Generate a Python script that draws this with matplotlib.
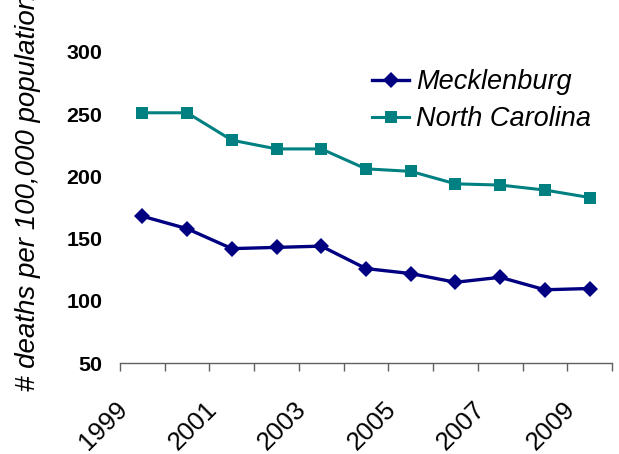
import numpy as np
import matplotlib
matplotlib.use("Agg")
import matplotlib.pyplot as plt
from matplotlib.transforms import ScaledTranslation

plt.rcParams["font.family"] = ["Liberation Sans", "DejaVu Sans"]

years = [1999, 2000, 2001, 2002, 2003, 2004, 2005, 2006, 2007, 2008, 2009]
mecklenburg = [168, 158, 142, 143, 144, 126, 122, 115, 119, 109, 110]
north_carolina = [251, 251, 229, 222, 222, 206, 204, 194, 193, 189, 183]
yticks = [50, 100, 150, 200, 250, 300]

fig = plt.figure(figsize=(6.19, 4.54), dpi=100)
ax = fig.add_axes([0.1939, 0.1998, 0.7948, 0.6863])

x = np.arange(len(years))
ax.plot(x, mecklenburg, "-D", color="#000080", lw=2.4, ms=7.8, mew=0, label="Mecklenburg")
ax.plot(x, north_carolina, "-s", color="#008080", lw=2.2, ms=8.7, mew=0, label="North Carolina")

ax.set_xlim(-0.5, len(years) - 0.5)
ax.set_ylim(50, 300)
ax.set_yticks(yticks)
ax.set_yticklabels([str(v) for v in yticks], fontsize=15.4, fontweight="bold")
ax.tick_params(axis="y", length=0, pad=12.7)

ax.set_xticks(x[::2])
ax.set_xticklabels([str(y) for y in years[::2]], fontsize=18.5, rotation=45, ha="right", va="top")
ax.set_xticks(np.arange(-0.5, len(years)), minor=True)
ax.tick_params(axis="x", which="major", length=0, pad=24)
ax.tick_params(axis="x", which="minor", length=5.8, width=1, color="#606060")
for lab in ax.get_xticklabels():
    lab.set_transform(lab.get_transform() + ScaledTranslation(-0.10, 0, fig.dpi_scale_trans))

for s in ["top", "right", "left"]:
    ax.spines[s].set_visible(False)
ax.spines["bottom"].set_color("#606060")
ax.spines["bottom"].set_linewidth(1)

# axis title runs off the top edge, as in the original
fig.text(0.045, 0.576, "# deaths per 100,000 population", rotation=90, fontsize=20,
         style="italic", ha="center", va="center")

ax.legend(loc="upper left", bbox_to_anchor=(372 / 619, 1 - 69 / 454), bbox_transform=fig.transFigure,
          frameon=False, prop={"size": 19.5, "style": "italic"}, handlelength=1.37,
          handletextpad=0.25, labelspacing=0.42, borderpad=0, borderaxespad=0)

fig.savefig("out.png", dpi=100)
